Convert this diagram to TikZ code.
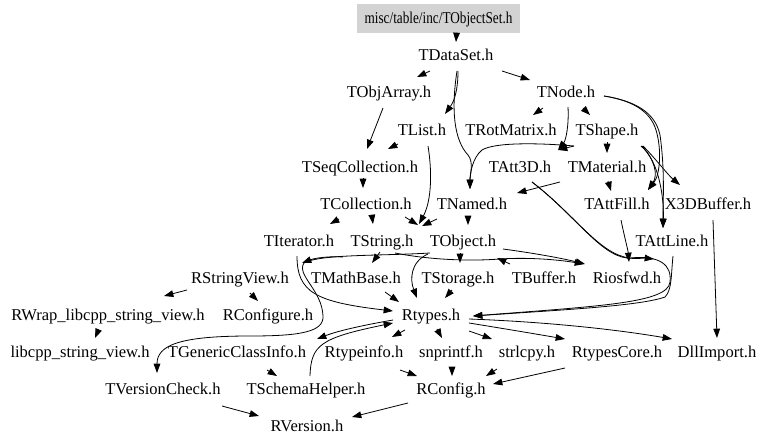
\documentclass[tikz,border=0pt]{standalone}
\usepackage{fontspec}
\setmainfont{Liberation Serif}
\usetikzlibrary{arrows.meta}
\definecolor{rootgray}{RGB}{211,211,211}
\tikzset{
  file/.style={inner sep=0pt, text height=8.2pt, text depth=0pt, font=\fontsize{12.4}{14}\selectfont},
  rootbox/.style={file, fill=rootgray, minimum width=122.25pt, minimum height=21.75pt},
  dep/.style={-{Triangle[length=7pt,width=5pt]}, line width=0.6pt, black},
}
\begin{document}
\begin{tikzpicture}[x=0.75pt,y=-0.75pt]
\useasboundingbox (0,0) rectangle (768,447);
% nodes
\node[rootbox] (top) at (438.5,18.5) {\scalebox{0.8}[1]{misc/table/inc/TObjectSet.h}};
\node[file] (tdataset) at (456,55) {TDataSet.h};
\node[file] (tobjarray) at (389,92) {TObjArray.h};
\node[file] (tnode) at (566,92) {TNode.h};
\node[file] (tlist) at (422,130) {TList.h};
\node[file] (trot) at (511,130) {TRotMatrix.h};
\node[file] (tshape) at (607,130) {TShape.h};
\node[file] (tseq) at (360,167) {TSeqCollection.h};
\node[file] (tatt3d) at (520,167) {TAtt3D.h};
\node[file] (tmat) at (607,167) {TMaterial.h};
\node[file] (tcoll) at (366,204) {TCollection.h};
\node[file] (tnamed) at (472,204) {TNamed.h};
\node[file] (tattfill) at (617,204) {TAttFill.h};
\node[file] (x3d) at (708,204) {X3DBuffer.h};
\node[file] (titer) at (299,241) {TIterator.h};
\node[file] (tstring) at (382,241) {TString.h};
\node[file] (tobject) at (463,241) {TObject.h};
\node[file] (tattline) at (672,241) {TAttLine.h};
\node[file] (rsv) at (240,278) {RStringView.h};
\node[file] (tmath) at (356,278) {TMathBase.h};
\node[file] (tstorage) at (458,278) {TStorage.h};
\node[file] (tbuffer) at (544,278) {TBuffer.h};
\node[file] (riosfwd) at (627,278) {Riosfwd.h};
\node[file] (rwrap) at (108,315) {RWrap\_libcpp\_string\_view.h};
\node[file] (rconfigure) at (268,315) {RConfigure.h};
\node[file] (rtypes) at (431,315) {Rtypes.h};
\node[file] (libcpp) at (80,352) {libcpp\_string\_view.h};
\node[file] (tgci) at (237,352) {TGenericClassInfo.h};
\node[file] (rtypeinfo) at (364,352) {Rtypeinfo.h};
\node[file] (snprintf) at (451,352) {snprintf.h};
\node[file] (strlcpy) at (527,352) {strlcpy.h};
\node[file] (rtypescore) at (617,352) {RtypesCore.h};
\node[file] (dllimport) at (717,352) {DllImport.h};
\node[file] (tvc) at (163,389) {TVersionCheck.h};
\node[file] (tsh) at (306,389) {TSchemaHelper.h};
\node[file] (rconfig) at (451,389) {RConfig.h};
\node[file] (rversion) at (307,426) {RVersion.h};
% edges
\draw[dep] ([shift={(18,15)}]top.center) -- ([shift={(0,-13)}]tdataset.center);
\draw[dep] ([shift={(-26,16)}]tdataset.center) -- ([shift={(28,-15)}]tobjarray.center);
\draw[dep] ([shift={(2,16)}]tdataset.center) .. controls (458,88) and (455,100) .. ([shift={(23,-16)}]tlist.center);
\draw[dep] ([shift={(46,16)}]tdataset.center) -- ([shift={(-36,-12)}]tnode.center);
\draw[dep] ([shift={(1,16)}]tdataset.center) .. controls (451,110) and (454,140) .. (468,155) .. controls (474,162) and (470,175) .. ([shift={(-2,-15)}]tnamed.center);
\draw[dep] ([shift={(-23,16)}]tnode.center) -- ([shift={(22,-15)}]trot.center);
\draw[dep] ([shift={(17,16)}]tnode.center) -- ([shift={(-17,-15)}]tshape.center);
\draw[dep] ([shift={(2,15)}]tnode.center) .. controls (569,125) and (566,140) .. ([shift={(38,-17)}]tatt3d.center);
\draw[dep] ([shift={(-33,16)}]tshape.center) -- ([shift={(38,-17)}]tatt3d.center);
\draw[dep] ([shift={(-33,16)}]tshape.center) .. controls (540,143) and (495,142) .. (482,150) .. controls (472,158) and (470,175) .. ([shift={(-2,-15)}]tnamed.center);
\draw[dep] ([shift={(38,4)}]tnode.center) .. controls (630,100) and (650,110) .. (656,130) .. controls (662,150) and (660,175) .. ([shift={(31,-14)}]tattfill.center);
\draw[dep] ([shift={(38,4)}]tnode.center) .. controls (635,101) and (655,112) .. (660,135) .. controls (665,170) and (663,200) .. ([shift={(-9,-13)}]tattline.center);
\draw[dep] ([shift={(36,16)}]tshape.center) .. controls (655,158) and (668,175) .. ([shift={(-28,-19)}]x3d.center);
\draw[dep] ([shift={(35,16)}]tshape.center) .. controls (655,160) and (658,175) .. ([shift={(31,-14)}]tattfill.center);
\draw[dep] ([shift={(34,16)}]tshape.center) .. controls (660,162) and (664,200) .. ([shift={(-9,-13)}]tattline.center);
\draw[dep] ([shift={(0,12)}]tshape.center) -- ([shift={(0,-14)}]tmat.center);
\draw[dep] ([shift={(-47,15)}]tmat.center) -- ([shift={(45,-11)}]tnamed.center);
\draw[dep] ([shift={(1,14)}]tmat.center) -- ([shift={(-6,-13)}]tattfill.center);
\draw[dep] ([shift={(12,15)}]tatt3d.center) .. controls (575,215) and (600,255) .. (627,258) .. controls (637,259) and (645,258) .. ([shift={(27,-19)}]riosfwd.center);
\draw[dep] ([shift={(12,15)}]tatt3d.center) .. controls (575,215) and (600,255) .. (630,258) .. controls (660,255) and (672,265) .. (670,282) .. controls (668,303) and (600,306) .. ([shift={(42,1)}]rtypes.center);
\draw[dep] ([shift={(1,15)}]tattline.center) .. controls (671,275) and (672,290) .. (665,297) .. controls (640,306) and (560,310) .. ([shift={(42,1)}]rtypes.center);
\draw[dep] ([shift={(4,16)}]tattfill.center) .. controls (624,235) and (628,250) .. ([shift={(2,-16)}]riosfwd.center);
\draw[dep] ([shift={(5,16)}]x3d.center) -- ([shift={(0,-14)}]dllimport.center);
\draw[dep] ([shift={(-6,16)}]tobjarray.center) -- ([shift={(7,-18)}]tseq.center);
\draw[dep] ([shift={(-24,14)}]tlist.center) -- ([shift={(28,-18)}]tseq.center);
\draw[dep] ([shift={(6,16)}]tlist.center) .. controls (432,170) and (432,200) .. ([shift={(37,-17)}]tstring.center);
\draw[dep] ([shift={(3,11)}]tseq.center) -- ([shift={(-3,-16)}]tcoll.center);
\draw[dep] ([shift={(-27,15)}]tcoll.center) -- ([shift={(31,-17)}]titer.center);
\draw[dep] ([shift={(6,12)}]tcoll.center) -- ([shift={(-9,-17)}]tstring.center);
\draw[dep] ([shift={(39,13)}]tcoll.center) -- ([shift={(36,-16)}]tstring.center);
\draw[dep] ([shift={(-35,15)}]tnamed.center) -- ([shift={(40,-15)}]tstring.center);
\draw[dep] ([shift={(-4,13)}]tnamed.center) -- ([shift={(5,-16)}]tobject.center);
\draw[dep] ([shift={(-39,16)}]tstring.center) .. controls (330,256) and (315,258) .. ([shift={(62,-15)}]rsv.center);
\draw[dep] ([shift={(-2,11)}]tstring.center) -- ([shift={(16,-15)}]tmath.center);
\draw[dep] ([shift={(-33,12)}]tobject.center) .. controls (380,256) and (320,254) .. (304,263) .. controls (296,275) and (322,290) .. (323,316) .. controls (324,332) and (300,336) .. (250,336) .. controls (180,336) and (157,345) .. ([shift={(-6,-16)}]tvc.center);
\draw[dep] ([shift={(-2,15)}]titer.center) .. controls (297,292) and (315,302) .. ([shift={(-38,-4)}]rtypes.center);
\draw[dep] ([shift={(-35,13)}]tobject.center) .. controls (410,262) and (410,280) .. ([shift={(-14,-17)}]rtypes.center);
\draw[dep] ([shift={(-3,12)}]tobject.center) -- ([shift={(2,-15)}]tstorage.center);
\draw[dep] ([shift={(40,8)}]tobject.center) .. controls (540,254) and (565,259) .. ([shift={(-42,-14)}]riosfwd.center);
\draw[dep] ([shift={(13,12)}]tstring.center) .. controls (420,258) and (460,262) .. (500,259) .. controls (530,257) and (560,260) .. ([shift={(-43,-14)}]riosfwd.center);
\draw[dep] ([shift={(-34,-14)}]tbuffer.center) -- ([shift={(34,17)}]tobject.center);
\draw[dep] ([shift={(-6,12)}]tstorage.center) -- ([shift={(14,-17)}]rtypes.center);
\draw[dep] ([shift={(29,14)}]tmath.center) -- ([shift={(-32,-13)}]rtypes.center);
\draw[dep] ([shift={(-53,12)}]rsv.center) -- ([shift={(56,-19)}]rwrap.center);
\draw[dep] ([shift={(10,15)}]rsv.center) -- ([shift={(-10,-14)}]rconfigure.center);
\draw[dep] ([shift={(-10,16)}]rwrap.center) -- ([shift={(15,-14)}]libcpp.center);
\draw[dep] ([shift={(-38,5)}]rtypes.center) .. controls (370,324) and (340,330) .. ([shift={(80,-13)}]tgci.center);
\draw[dep] ([shift={(4,-13)}]tsh.center) .. controls (311,345) and (320,338) .. ([shift={(-38,8)}]rtypes.center);
\draw[dep] ([shift={(30,18)}]tgci.center) -- ([shift={(-29,-13)}]tsh.center);
\draw[dep] ([shift={(-26,15)}]rtypes.center) -- ([shift={(28,-15)}]rtypeinfo.center);
\draw[dep] ([shift={(6,14)}]rtypes.center) -- ([shift={(-9,-14)}]snprintf.center);
\draw[dep] ([shift={(38,16)}]rtypes.center) -- ([shift={(-35,-13)}]strlcpy.center);
\draw[dep] ([shift={(38,8)}]rtypes.center) .. controls (500,328) and (530,333) .. ([shift={(-52,-13)}]rtypescore.center);
\draw[dep] ([shift={(38,4)}]rtypes.center) .. controls (550,322) and (620,330) .. ([shift={(-45,-13)}]dllimport.center);
\draw[dep] ([shift={(36,18)}]rtypeinfo.center) -- ([shift={(-34,-13)}]rconfig.center);
\draw[dep] ([shift={(1,15)}]snprintf.center) -- ([shift={(1,-13)}]rconfig.center);
\draw[dep] ([shift={(-30,17)}]strlcpy.center) -- ([shift={(35,-13)}]rconfig.center);
\draw[dep] ([shift={(-52,16)}]rtypescore.center) -- ([shift={(42,-5)}]rconfig.center);
\draw[dep] ([shift={(59,17)}]tvc.center) -- ([shift={(-48,-10)}]rversion.center);
\draw[dep] ([shift={(-43,14)}]rconfig.center) -- ([shift={(45,-9)}]rversion.center);
\end{tikzpicture}
\end{document}
